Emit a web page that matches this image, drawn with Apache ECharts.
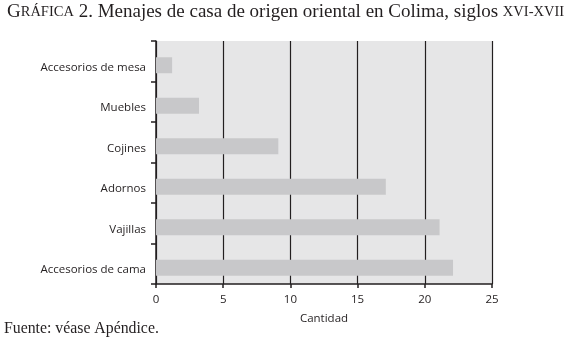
<!DOCTYPE html>
<html><head><meta charset="utf-8">
<script src="https://cdn.jsdelivr.net/npm/echarts@6/dist/echarts.min.js"></script>
<style>html,body{margin:0;padding:0;background:#fff}#c{width:575px;height:349px}</style>
</head><body><div id="c"></div>
<script>
const categories = ['Accesorios de mesa','Muebles','Cojines','Adornos','Vajillas','Accesorios de cama'];
const values = [1.2, 3.2, 9.1, 17.1, 21.1, 22.1];
const xTicks = [0, 5, 10, 15, 20, 25];
const xTitle = 'Cantidad';
const source = 'Fuente: véase Apéndice.';

const chart = echarts.init(document.getElementById('c'));
chart.setOption({
  animation: false,
  backgroundColor: '#fff',
  title: [{
    left: 7, top: 3, padding: 0,
    text: '{a|G}{b|RÁFICA}{c| 2. Menajes de casa de origen oriental en Colima, siglos }{b|XVI-XVII}',
    textStyle: {
      fontWeight: 'normal',
      rich: {
        a: {fontFamily: 'Liberation Serif', fontSize: 19, fontWeight: 'normal', color: '#231f20'},
        b: {fontFamily: 'Liberation Serif', fontSize: 14.5, fontWeight: 'normal', color: '#231f20'},
        c: {fontFamily: 'Liberation Serif', fontSize: 19, fontWeight: 'normal', color: '#231f20'}
      }
    }
  }, {
    left: 4, top: 321, padding: 0,
    text: source,
    textStyle: {fontFamily: 'Liberation Serif', fontSize: 15.8, fontWeight: 'normal', color: '#231f20'}
  }],
  grid: {left: 156, right: 83, top: 41, height: 243, show: true, backgroundColor: '#e6e6e7', borderWidth: 0, containLabel: false},
  xAxis: {
    type: 'value', min: xTicks[0], max: xTicks[xTicks.length-1], interval: 5,
    name: xTitle, nameLocation: 'middle', nameGap: 29,
    nameTextStyle: {fontFamily: 'Open Sans', fontSize: 11.5, color: '#231f20'},
    axisLine: {show: true, lineStyle: {color: '#231f20', width: 1.5}},
    axisTick: {show: true, length: 4, lineStyle: {color: '#231f20', width: 1.5}},
    axisLabel: {fontFamily: 'Open Sans', fontSize: 11.5, color: '#231f20', margin: 10},
    splitLine: {show: true, lineStyle: {color: '#231f20', width: 1.2}}
  },
  yAxis: {
    type: 'category', data: categories, inverse: true,
    axisLine: {show: true, lineStyle: {color: '#231f20', width: 1.5}},
    axisTick: {show: true, length: 5, lineStyle: {color: '#231f20', width: 1.5}},
    axisLabel: {fontFamily: 'Open Sans', fontSize: 11.5, color: '#231f20', margin: 10, padding: [0, 0, 0, 0], lineHeight: 12, verticalAlign: 'top'},
    splitLine: {show: false}
  },
  series: [{
    type: 'bar', data: values.map(() => 0), barWidth: 8, barGap: '0%',
    itemStyle: {color: 'rgba(0,0,0,0)'}, silent: true
  }, {
    type: 'bar', data: values, barWidth: 16, barGap: '0%',
    itemStyle: {color: '#c8c8ca'}
  }]
});
</script></body></html>
